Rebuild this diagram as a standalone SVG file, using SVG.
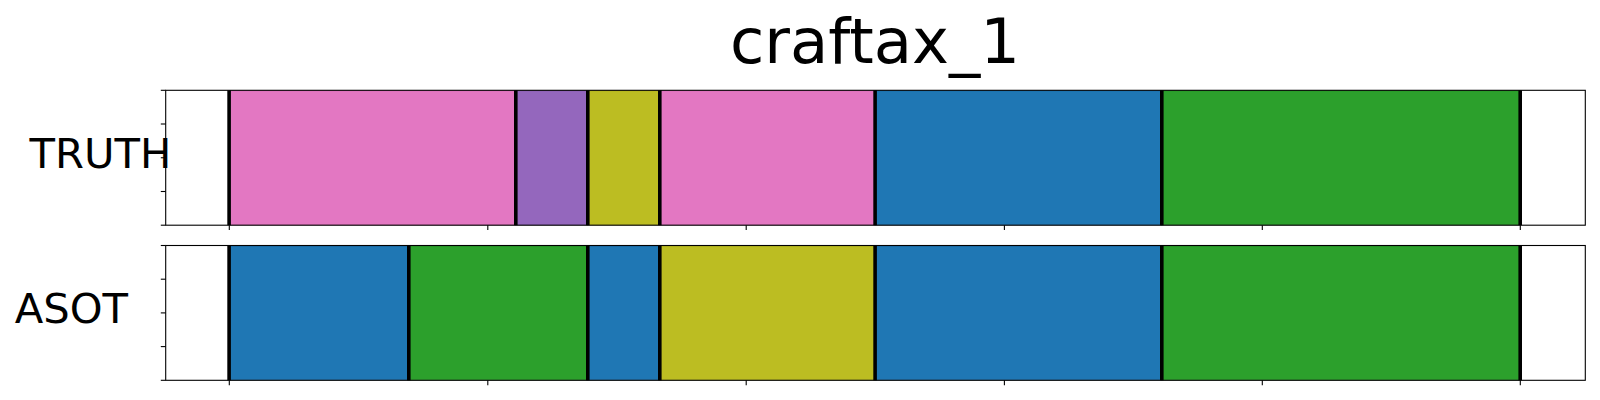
<svg xmlns="http://www.w3.org/2000/svg" width="1600" height="400" viewBox="0 0 1600 400">
<style>
text{font-family:"DejaVu Sans","Liberation Sans",sans-serif;fill:#000}
.title{font-size:62.5px}
.lab{font-size:41.7px}
.frame{fill:none;stroke:#000;stroke-width:1.1}
.tick{stroke:#000;stroke-width:1.1}
.bd{stroke:#000;stroke-width:3.6}
.pink{fill:#e377c2;stroke:#d56bb4;stroke-width:1}
.purple{fill:#9467bd;stroke:#875bb0;stroke-width:1}
.olive{fill:#bcbd22;stroke:#aeaf18;stroke-width:1}
.blue{fill:#1f77b4;stroke:#1a6ba5;stroke-width:1}
.green{fill:#2ca02c;stroke:#259325;stroke-width:1}
</style>
<rect width="1600" height="400" fill="#fff"/>
<text class="title" x="875" y="63.3" text-anchor="middle">craftax_1</text>

<g id="truth">
<rect x="165.7" y="90.3" width="1419.6" height="134.9" fill="#fff"/>
<rect class="pink" x="229.2" y="90.8" width="286.6" height="134"/>
<rect class="purple" x="515.8" y="90.8" width="72" height="134"/>
<rect class="olive" x="587.8" y="90.8" width="72" height="134"/>
<rect class="pink" x="659.8" y="90.8" width="215.3" height="134"/>
<rect class="blue" x="875.1" y="90.8" width="286.7" height="134"/>
<rect class="green" x="1161.8" y="90.8" width="358.4" height="134"/>
<g class="bd">
<line x1="229.1" y1="90.3" x2="229.1" y2="225.2"/>
<line x1="515.8" y1="90.3" x2="515.8" y2="225.2"/>
<line x1="587.8" y1="90.3" x2="587.8" y2="225.2"/>
<line x1="659.8" y1="90.3" x2="659.8" y2="225.2"/>
<line x1="875.1" y1="90.3" x2="875.1" y2="225.2"/>
<line x1="1161.8" y1="90.3" x2="1161.8" y2="225.2"/>
<line x1="1520.2" y1="90.3" x2="1520.2" y2="225.2"/>
</g>
<rect class="frame" x="165.7" y="90.3" width="1419.6" height="134.9"/>
<g class="tick">
<line x1="160.8" y1="90.3" x2="165.7" y2="90.3"/>
<line x1="160.8" y1="124" x2="165.7" y2="124"/>
<line x1="160.8" y1="157.75" x2="165.7" y2="157.75"/>
<line x1="160.8" y1="191.5" x2="165.7" y2="191.5"/>
<line x1="160.8" y1="225.2" x2="165.7" y2="225.2"/>
<line x1="229.3" y1="225.2" x2="229.3" y2="230.1"/>
<line x1="487.8" y1="225.2" x2="487.8" y2="230.1"/>
<line x1="746.2" y1="225.2" x2="746.2" y2="230.1"/>
<line x1="1004.4" y1="225.2" x2="1004.4" y2="230.1"/>
<line x1="1262.3" y1="225.2" x2="1262.3" y2="230.1"/>
<line x1="1520.3" y1="225.2" x2="1520.3" y2="230.1"/>
</g>
<text class="lab" x="29.5" y="168.3">TRUTH</text>
</g>

<g id="asot">
<rect x="165.7" y="245.5" width="1419.6" height="134.8" fill="#fff"/>
<rect class="blue" x="229.2" y="246" width="179.6" height="133.8"/>
<rect class="green" x="408.8" y="246" width="179" height="133.8"/>
<rect class="blue" x="587.8" y="246" width="72" height="133.8"/>
<rect class="olive" x="659.8" y="246" width="215.3" height="133.8"/>
<rect class="blue" x="875.1" y="246" width="286.7" height="133.8"/>
<rect class="green" x="1161.8" y="246" width="358.4" height="133.8"/>
<g class="bd">
<line x1="229.1" y1="245.5" x2="229.1" y2="380.3"/>
<line x1="408.8" y1="245.5" x2="408.8" y2="380.3"/>
<line x1="587.8" y1="245.5" x2="587.8" y2="380.3"/>
<line x1="659.8" y1="245.5" x2="659.8" y2="380.3"/>
<line x1="875.1" y1="245.5" x2="875.1" y2="380.3"/>
<line x1="1161.8" y1="245.5" x2="1161.8" y2="380.3"/>
<line x1="1520.2" y1="245.5" x2="1520.2" y2="380.3"/>
</g>
<rect class="frame" x="165.7" y="245.5" width="1419.6" height="134.8"/>
<g class="tick">
<line x1="160.8" y1="245.5" x2="165.7" y2="245.5"/>
<line x1="160.8" y1="279.2" x2="165.7" y2="279.2"/>
<line x1="160.8" y1="312.9" x2="165.7" y2="312.9"/>
<line x1="160.8" y1="346.6" x2="165.7" y2="346.6"/>
<line x1="160.8" y1="380.3" x2="165.7" y2="380.3"/>
<line x1="229.3" y1="380.3" x2="229.3" y2="385.2"/>
<line x1="487.8" y1="380.3" x2="487.8" y2="385.2"/>
<line x1="746.2" y1="380.3" x2="746.2" y2="385.2"/>
<line x1="1004.4" y1="380.3" x2="1004.4" y2="385.2"/>
<line x1="1262.3" y1="380.3" x2="1262.3" y2="385.2"/>
<line x1="1520.3" y1="380.3" x2="1520.3" y2="385.2"/>
</g>
<text class="lab" x="14.7" y="323.3">ASOT</text>
</g>
</svg>
